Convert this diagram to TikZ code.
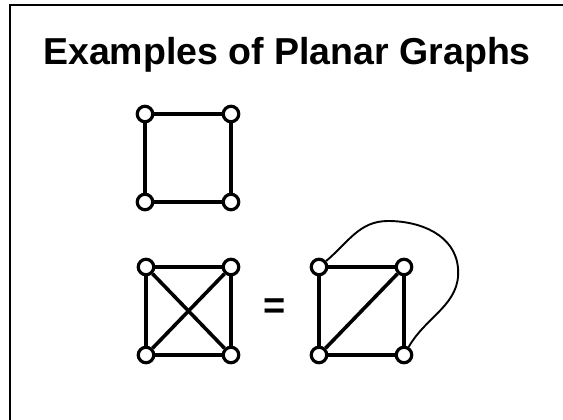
\documentclass[tikz,border=0pt]{standalone}
\usepackage{fontspec}
\setmainfont{Liberation Sans}

\begin{document}
\begin{tikzpicture}[x=1pt,y=-1pt,
  vertex/.style={circle,draw,fill=white,line width=3.2pt,inner sep=0pt,minimum size=15.5pt},
  edge/.style={line width=3.6pt},
  wire/.style={line width=1.9pt}]
  \useasboundingbox (0,0) rectangle (563,420);
  % slide frame
  \draw[line width=2.2pt] (10,422) -- (10,5) -- (565,5);
  \node[font=\bfseries\fontsize{37.5}{40}\selectfont,anchor=base] (title) at (287,65) {Examples of Planar Graphs};
  % the square
  \foreach \n/\x/\y in {a1/145/114,a2/231/114,a3/231/202,a4/145/202}{
    \node[vertex] (\n) at (\x,\y) {};
  }
  \draw[edge] (a1) -- (a2) -- (a3) -- (a4) -- (a1);
  % K4 with crossing
  \foreach \n/\x/\y in {b1/146/267,b2/231/267,b3/231/355,b4/146/355}{
    \node[vertex] (\n) at (\x,\y) {};
  }
  \draw[edge] (b1) -- (b2) -- (b3) -- (b4) -- (b1);
  \draw[edge] (b1) -- (b3);
  \draw[edge] (b2) -- (b4);
  \node[font=\bfseries\fontsize{38}{40}\selectfont] (eq) at (275,309) {=};
  % K4 drawn without crossing
  \foreach \n/\x/\y in {c1/319/267,c2/404/267,c3/404/355,c4/319/355}{
    \node[vertex] (\n) at (\x,\y) {};
  }
  \draw[edge] (c1) -- (c2) -- (c3) -- (c4) -- (c1);
  \draw[edge] (c4) -- (c2);
  \coordinate (top) at (388,221);
  \coordinate (side) at (458,268);
  \draw[wire] (c1) to[out=40,in=180] (top) to[out=0,in=95] (side) to[out=-85,in=60] (c3);
\end{tikzpicture}
\end{document}
